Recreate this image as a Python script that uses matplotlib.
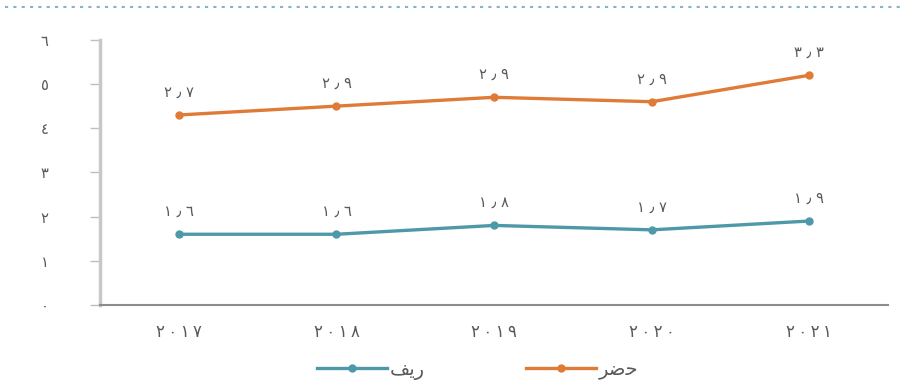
import matplotlib.pyplot as plt
from matplotlib.lines import Line2D

plt.rcParams['font.family'] = ['DejaVu Sans']

# years on the x axis and the two series (stacked: urban sits on top of rural)
years = ['٢٠١٧', '٢٠١٨', '٢٠١٩', '٢٠٢٠', '٢٠٢١']
rural = [1.6, 1.6, 1.8, 1.7, 1.9]
urban = [2.7, 2.9, 2.9, 2.9, 3.3]
ytick_labels = ['٠', '١', '٢', '٣', '٤', '٥', '٦']

# legend names written in shaped presentation forms, visual order
rural_name = 'ﻒﻳﺭ'
urban_name = 'ﺮﺿﺣ'

blue = '#4E99A8'
orange = '#E07B37'
grey_text = '#595959'

digits = str.maketrans('0123456789', '٠١٢٣٤٥٦٧٨٩')


def ar(v):
    return f'{v:.1f}'.translate(digits).replace('.', ' ٫ ')


def spaced(s):
    # open up the digit spacing a little
    return '\u2009'.join(s)


fig = plt.figure(figsize=(9.05, 3.87), dpi=100)
ax = fig.add_axes([0.1105, 0.212, 0.871, 0.685])

x = list(range(len(years)))
stacked = [r + u for r, u in zip(rural, urban)]

ax.plot(x, rural, color=blue, lw=2.4, marker='o', ms=5, solid_capstyle='round')
ax.plot(x, stacked, color=orange, lw=2.4, marker='o', ms=5, solid_capstyle='round')

for xi, r, s, u in zip(x, rural, stacked, urban):
    ax.annotate(ar(r), (xi, r), xytext=(0, 11), textcoords='offset points',
                ha='center', va='bottom', fontsize=10.5, color=grey_text)
    ax.annotate(ar(u), (xi, s), xytext=(0, 11), textcoords='offset points',
                ha='center', va='bottom', fontsize=10.5, color=grey_text)

ax.set_xlim(-0.5, len(years) - 0.5)
ax.set_ylim(0, 6)
ax.set_xticks(x)
ax.set_xticklabels([spaced(y) for y in years], fontsize=12, color=grey_text)
ax.set_yticks(range(7))
ax.set_yticklabels(ytick_labels, fontsize=10.5, color=grey_text)
ax.tick_params(axis='x', length=0, pad=13)
ax.tick_params(axis='y', length=7, width=1, color='#BFBFBF', pad=30)

for side in ['top', 'right']:
    ax.spines[side].set_visible(False)
ax.spines['left'].set_color('#C8C8C8')
ax.spines['left'].set_linewidth(2.5)
ax.spines['bottom'].set_color('#8C8C8C')
ax.spines['bottom'].set_linewidth(1.5)

handles = [
    Line2D([], [], color=blue, lw=2.4, marker='o', ms=5),
    Line2D([], [], color=orange, lw=2.4, marker='o', ms=5),
]
fig.legend(handles, [rural_name, urban_name], loc='center', ncol=2,
           bbox_to_anchor=(0.528, 0.045), frameon=False, fontsize=14,
           handlelength=3.6, handletextpad=0.15, columnspacing=5.2,
           labelcolor=grey_text)

# dotted rule across the top
fig.add_artist(Line2D([0.006, 0.994], [0.982, 0.982], color='#7FB6C4',
                      lw=1.5, ls=(0, (1.5, 2.5)), transform=fig.transFigure))

fig.savefig('out.png', dpi=100)
